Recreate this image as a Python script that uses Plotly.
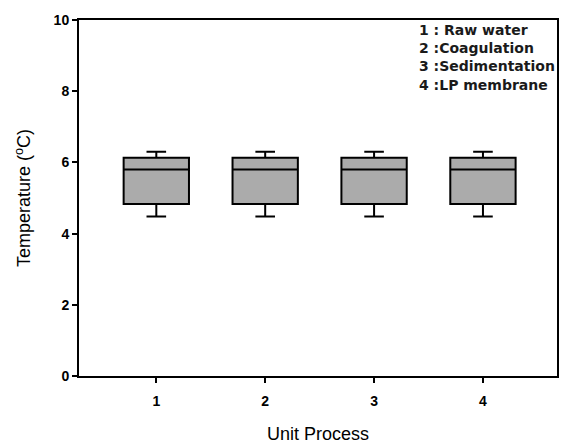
import plotly.graph_objects as go

# Temperature summary per unit process (box-plot statistics, °C)
processes = [1, 2, 3, 4]
lower_whisker = [4.48, 4.48, 4.48, 4.48]
q1 = [4.83, 4.83, 4.83, 4.83]
median = [5.80, 5.80, 5.80, 5.80]
q3 = [6.13, 6.13, 6.13, 6.13]
upper_whisker = [6.30, 6.30, 6.30, 6.30]

key_lines = ["1 : Raw water", "2 :Coagulation", "3 :Sedimentation", "4 :LP membrane"]
y_ticks = [0, 2, 4, 6, 8, 10]

FONT = "Liberation Sans, Arial, sans-serif"
KEY_FONT = "DejaVu Sans, Liberation Sans, sans-serif"

fig = go.Figure()
fig.add_trace(go.Box(
    x=processes,
    q1=q1,
    median=median,
    q3=q3,
    lowerfence=lower_whisker,
    upperfence=upper_whisker,
    width=0.6,
    whiskerwidth=0.3,
    fillcolor="#ababab",
    line=dict(color="black", width=2),
    boxpoints=False,
    showlegend=False,
    hoverinfo="skip",
))

fig.add_annotation(
    xref="paper", yref="paper",
    x=0.708, y=1.0,
    xanchor="left", yanchor="top",
    align="left",
    showarrow=False,
    text="<br>".join("<b>%s</b>" % s for s in key_lines),
    font=dict(family=KEY_FONT, size=14, color="#1a1a1a"),
)

axis_common = dict(
    showline=True, linecolor="black", linewidth=2, mirror=True,
    showgrid=False, zeroline=False, automargin=False,
    ticks="outside", tickcolor="black", tickwidth=2, ticklen=5,
    tickfont=dict(family=FONT, size=14, color="black", weight="bold"),
)

fig.update_layout(
    width=563, height=444,
    margin=dict(l=79, r=6, t=20, b=68),
    paper_bgcolor="white", plot_bgcolor="white",
    font=dict(family=FONT, color="black"),
    xaxis=dict(
        range=[0.29, 4.68],
        tickvals=processes,
        ticktext=[str(p) for p in processes],
        title=dict(text="Unit Process", font=dict(family=FONT, size=18), standoff=22),
        **axis_common,
    ),
    yaxis=dict(
        range=[0, 10],
        tickvals=y_ticks,
        title=dict(text="Temperature (<sup>o</sup>C)", font=dict(family=FONT, size=18), standoff=18),
        **axis_common,
    ),
)
fig.update_xaxes(ticklabelstandoff=6)

fig.write_html("out.html")
